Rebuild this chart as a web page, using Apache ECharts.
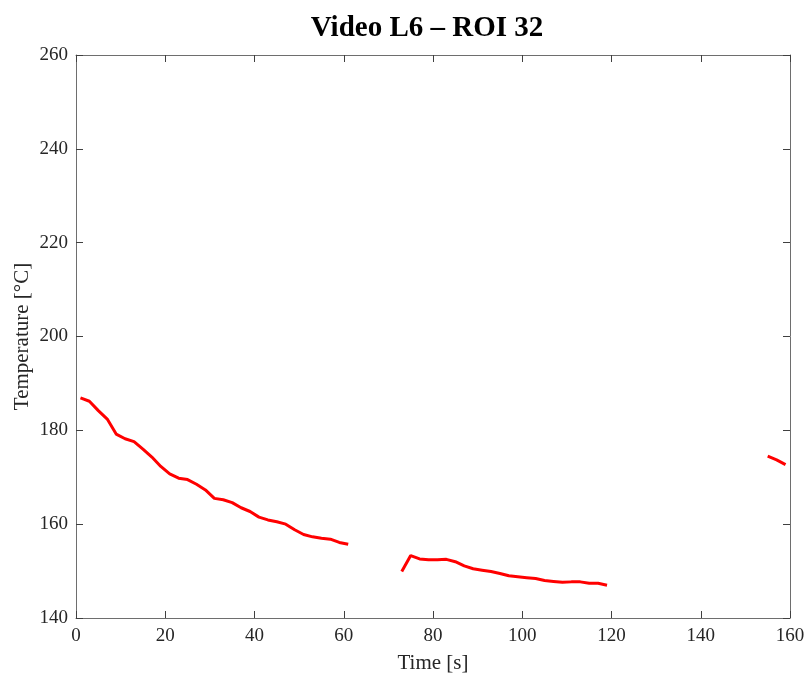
<!DOCTYPE html>
<html>
<head>
<meta charset="utf-8">
<script src="https://cdn.jsdelivr.net/npm/echarts@6/dist/echarts.min.js"></script>
<style>
  html, body { margin: 0; padding: 0; background: #fff; }
  #chart { width: 807px; height: 675px; }
</style>
</head>
<body>
<div id="chart"></div>
<script>
// Sample times [s] and measured temperature [°C]; null marks a dropout
const times = [
  1, 3, 5, 7, 9, 11, 13, 15, 17, 19, 21, 23, 25, 27, 29, 31, 33, 35, 37, 39,
  41, 43, 45, 47, 49, 51, 53, 55, 57, 59, 61, 63, 65, 67, 69, 71,
  73, 75, 77, 79, 81, 83, 85, 87, 89, 91, 93, 95, 97, 99, 101, 103, 105, 107,
  109, 111, 113, 115, 117, 119, 121, 123, 125, 127, 129, 131, 133, 135, 137,
  139, 141, 143, 145, 147, 149, 151, 153, 155, 157, 159
];
const temperature = [
  186.9, 186.2, 184.2, 182.4, 179.2, 178.2, 177.6, 176.0, 174.3, 172.3,
  170.7, 169.8, 169.5, 168.5, 167.3, 165.5, 165.2, 164.6, 163.5, 162.7,
  161.5, 160.9, 160.5, 160.0, 158.8, 157.8, 157.3, 157.0, 156.8, 156.1, 155.7,
  null, null, null, null, null,
  149.9, 153.3, 152.6, 152.4, 152.4, 152.5, 152.0, 151.1, 150.5, 150.2,
  149.9, 149.5, 149.0, 148.8, 148.6, 148.4, 148.0, 147.8, 147.6, 147.7,
  147.7, 147.4, 147.4, 147.0,
  null, null, null, null, null, null, null, null, null, null,
  null, null, null, null, null, null, null,
  174.5, 173.7, 172.7
];

const titleText = 'Video L6 – ROI 32';
const xName = 'Time [s]';
const yName = 'Temperature [°C]';

const font = '"Liberation Serif", "Times New Roman", serif';
const axisColor = '#6e6e6e';
const tickColor = '#404040';
const textColor = '#262626';

const points = times.map((t, i) => [t, temperature[i]]);

function frameAxis(extra) {
  return Object.assign({
    type: 'value',
    axisLine: { show: true, onZero: false, lineStyle: { color: axisColor, width: 1 } },
    axisTick: { show: true, inside: true, length: 7, lineStyle: { color: tickColor } },
    splitLine: { show: false }
  }, extra);
}

const chart = echarts.init(document.getElementById('chart'));
chart.setOption({
  backgroundColor: '#fff',
  animation: false,
  title: {
    text: titleText,
    top: 9,
    left: 422,
    textAlign: 'center',
    textStyle: { fontFamily: font, fontSize: 29, fontWeight: 'bold', color: '#000' }
  },
  grid: {
    left: 76, right: 17, top: 55, bottom: 57,
    containLabel: false,
    outerBoundsMode: 'none'
  },
  xAxis: [
    frameAxis({
      min: 0, max: 160, interval: 20,
      name: xName, nameLocation: 'middle', nameGap: 35,
      nameMoveOverlap: false,
      nameTextStyle: { fontFamily: font, fontSize: 21, color: textColor },
      axisLabel: { fontFamily: font, fontSize: 19, color: textColor, margin: 9 }
    }),
    frameAxis({
      min: 0, max: 160, interval: 20, position: 'top',
      axisLabel: { show: false }
    })
  ],
  yAxis: [
    frameAxis({
      min: 140, max: 260, interval: 20,
      name: yName, nameLocation: 'middle', nameGap: 43,
      nameMoveOverlap: false,
      nameTextStyle: { fontFamily: font, fontSize: 21, color: textColor },
      axisLabel: { fontFamily: font, fontSize: 19, color: textColor, margin: 8 }
    }),
    frameAxis({
      min: 140, max: 260, interval: 20, position: 'right',
      axisLabel: { show: false }
    })
  ],
  series: [
    {
      type: 'line',
      xAxisIndex: 0, yAxisIndex: 0,
      data: points,
      showSymbol: false,
      connectNulls: false,
      lineStyle: { color: '#ff0000', width: 3 },
      itemStyle: { color: '#ff0000' }
    }
  ]
});
</script>
</body>
</html>
